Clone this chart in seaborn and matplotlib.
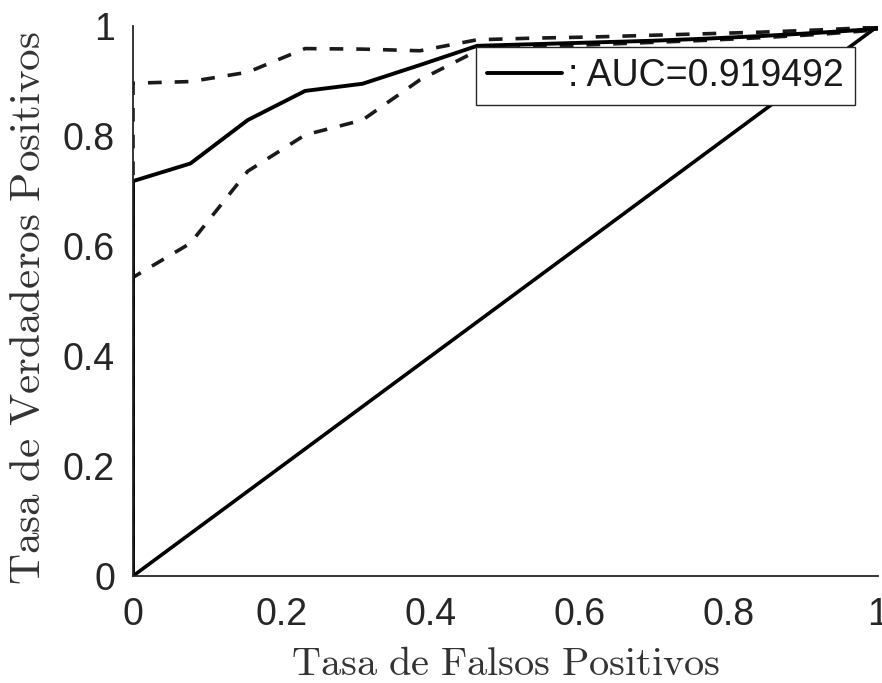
import matplotlib
matplotlib.use("Agg")
import matplotlib.pyplot as plt
import numpy as np
import pandas as pd
import seaborn as sns

# ROC curve (false positive rate vs. true positive rate) with its confidence bounds
fpr = [0.0, 0.0, 0.077, 0.154, 0.231, 0.308, 0.385, 0.462, 0.538, 0.615, 0.692, 0.769, 0.846, 0.923, 1.0]
tpr = [0.0, 0.718, 0.750, 0.829, 0.882, 0.895, 0.929, 0.964, 0.967, 0.970, 0.973, 0.977, 0.982, 0.988, 0.995]
tpr_upper = [0.0, 0.896, 0.899, 0.916, 0.959, 0.958, 0.955, 0.975, 0.978, 0.980, 0.983, 0.986, 0.989, 0.993, 0.998]
tpr_lower = [0.0, 0.543, 0.605, 0.736, 0.802, 0.829, 0.902, 0.955, 0.962, 0.966, 0.970, 0.974, 0.979, 0.985, 0.993]
chance_x = [0.0, 1.0]
chance_y = [0.0, 1.0]
auc = 0.919492

tick_values = [0, 0.2, 0.4, 0.6, 0.8, 1]
tick_labels = ["0", "0.2", "0.4", "0.6", "0.8", "1"]

sns.set_style("white")
plt.rcParams["font.family"] = ["Liberation Sans", "DejaVu Sans"]
plt.rcParams["mathtext.fontset"] = "cm"

fig = plt.figure(figsize=(8.82, 6.83), dpi=100)
ax = fig.add_axes([0.1508, 0.1567, 0.8447, 0.8052])

roc = pd.DataFrame({"fpr": fpr, "tpr": tpr, "upper": tpr_upper, "lower": tpr_lower})
chance = pd.DataFrame({"x": chance_x, "y": chance_y})

dash = (0, (3.8, 3.6))
sns.lineplot(data=roc, x="fpr", y="upper", estimator=None, sort=False, ax=ax,
             color="#1a1a1a", lw=2.6, linestyle=dash)
sns.lineplot(data=roc, x="fpr", y="lower", estimator=None, sort=False, ax=ax,
             color="#1a1a1a", lw=2.6, linestyle=dash)
sns.lineplot(data=roc, x="fpr", y="tpr", estimator=None, sort=False, ax=ax,
             color="black", lw=2.8, label=f": AUC={auc:.6f}")
sns.lineplot(data=chance, x="x", y="y", estimator=None, sort=False, ax=ax,
             color="black", lw=2.6)

ax.set_xlim(0, 1)
ax.set_ylim(0, 1)
ax.set_xticks(tick_values)
ax.set_xticklabels(tick_labels)
ax.set_yticks(tick_values)
ax.set_yticklabels(tick_labels)

for side in ["top", "right"]:
    ax.spines[side].set_visible(False)
for side in ["left", "bottom"]:
    ax.spines[side].set_color("#262626")
    ax.spines[side].set_linewidth(1.3)

ax.tick_params(axis="both", direction="in", length=6, width=1.0, colors="#262626",
               labelsize=27, labelcolor="#262626")
ax.tick_params(axis="x", pad=15)
ax.tick_params(axis="y", pad=13)

ax.set_xlabel(r"$\mathrm{Tasa\ de\ Falsos\ Positivos}$", fontsize=29, color="#333333")
ax.set_ylabel(r"$\mathrm{Tasa\ de\ Verdaderos\ Positivos}$", fontsize=31, color="#333333")
ax.xaxis.set_label_coords(0.5, -0.125)
ax.yaxis.set_label_coords(-0.113, 0.488)

leg = ax.legend(loc="upper left", bbox_to_anchor=(0.46, 0.962), borderaxespad=0,
                fontsize=27, handlelength=2.0, handletextpad=0.15, borderpad=0.3,
                frameon=True, fancybox=False, edgecolor="#262626", framealpha=1)
leg.get_frame().set_linewidth(1.0)
for t in leg.get_texts():
    t.set_color("#1a1a1a")

fig.savefig("out.png", dpi=100)
